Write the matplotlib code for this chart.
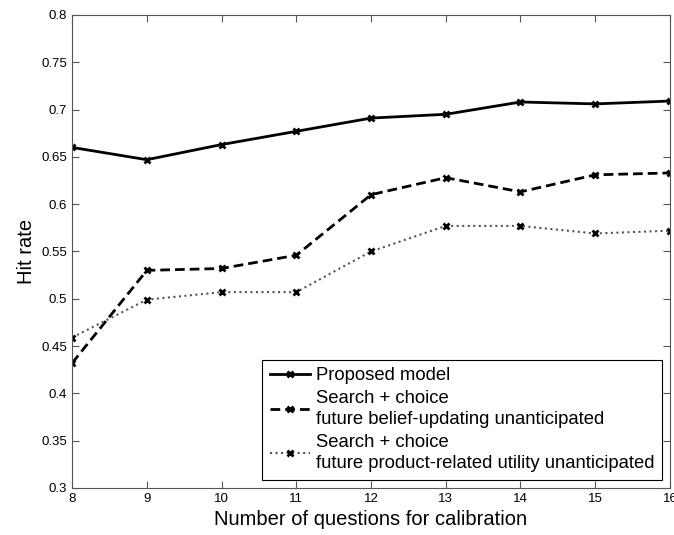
import matplotlib
matplotlib.use("Agg")
import matplotlib.pyplot as plt

plt.rcParams['font.family'] = ['Liberation Sans', 'DejaVu Sans']

x = [8, 9, 10, 11, 12, 13, 14, 15, 16]
proposed = [0.660, 0.647, 0.663, 0.677, 0.691, 0.695, 0.708, 0.706, 0.709]
belief = [0.432, 0.530, 0.532, 0.546, 0.610, 0.628, 0.613, 0.631, 0.633]
utility = [0.459, 0.499, 0.507, 0.507, 0.550, 0.577, 0.577, 0.569, 0.572]
labels = ["Proposed model",
          "Search + choice\nfuture belief-updating unanticipated",
          "Search + choice\nfuture product-related utility unanticipated"]
yticks = [0.3, 0.35, 0.4, 0.45, 0.5, 0.55, 0.6, 0.65, 0.7, 0.75, 0.8]
yticklabels = ["0.3", "0.35", "0.4", "0.45", "0.5", "0.55", "0.6", "0.65", "0.7", "0.75", "0.8"]

fig = plt.figure(figsize=(6.74, 5.35), dpi=100)
ax = fig.add_axes([0.107, 0.088, 0.887, 0.884])

ax.plot(x, proposed, '-', color='black', lw=2.0, marker='x', ms=5, mew=2, label=labels[0])
ax.plot(x, belief, '--', color='black', lw=2.0, marker='x', ms=5, mew=2, label=labels[1], dashes=(3.5, 1.8))
ax.plot(x, utility, ':', color='#555555', lw=1.5, marker='x', ms=5, mew=2, mec='black', label=labels[2])

ax.set_xlim(8, 16)
ax.set_ylim(0.3, 0.8)
ax.set_yticks(yticks)
ax.set_yticklabels(yticklabels)
ax.set_xticks(x)
ax.tick_params(direction='in', top=True, right=True, labelsize=9.5, length=5, color='#555555')
for s in ax.spines.values():
    s.set_color('#555555')
    s.set_linewidth(0.8)

ax.set_xlabel("Number of questions for calibration", fontsize=14.5)
ax.set_ylabel("Hit rate", fontsize=14.5)

leg = ax.legend(loc='lower right', fontsize=13.3, fancybox=False, edgecolor='black',
                framealpha=1, handlelength=2.2, borderaxespad=0.45, labelspacing=0.3,
                borderpad=0.4, handletextpad=0.3)
for t in leg.get_texts():
    t.set_linespacing(1.35)
leg.get_frame().set_linewidth(0.8)

fig.savefig("out.png", dpi=100)
